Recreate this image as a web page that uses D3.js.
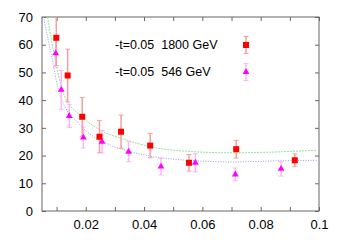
<!DOCTYPE html>
<html>
<head>
<meta charset="utf-8">
<script src="https://cdn.jsdelivr.net/npm/d3@7"></script>
<style>
  body { margin: 0; background: #fff; }
  svg { font-family: "Liberation Sans", Arial, sans-serif; }
</style>
</head>
<body>
<div class="chart"></div>
<script>
// 1800 GeV points (x, value, error)
var x1800 = [0.0099, 0.0138, 0.0188, 0.0247, 0.0321, 0.0421, 0.0554, 0.0716, 0.0917];
var y1800 = [62.5, 48.9, 34.0, 26.8, 28.6, 23.6, 17.4, 22.3, 18.3];
var e1800 = [10, 9.5, 7, 5.8, 6, 4.4, 3, 3.2, 2.3];

// 546 GeV points
var x546 = [0.0097, 0.0116, 0.01435, 0.0192, 0.0256, 0.0347, 0.0458, 0.0576, 0.0713, 0.087];
var y546 = [56.9, 43.7, 34.3, 26.5, 25.0, 21.4, 16.0, 17.4, 13.2, 15.2];
var e546 = [5, 7, 4.2, 3.8, 4, 3.6, 3, 3.3, 2.3, 2.6];

// fit curves
var fit1800x = [0.0069, 0.0092, 0.0124, 0.0187, 0.025, 0.0341, 0.0421, 0.0513, 0.0705, 0.0821, 0.0969, 0.0992];
var fit1800y = [70, 56.3, 42.4, 34.0, 29.2, 25.6, 23.2, 21.8, 21.0, 21.2, 21.8, 21.9];
var fit546x = [0.0055, 0.0082, 0.011, 0.0181, 0.0227, 0.0284, 0.0353, 0.0421, 0.0535, 0.0706, 0.0866, 0.0992];
var fit546y = [70, 56.3, 42.4, 31, 26.8, 23.8, 21.4, 19.8, 18.4, 17.7, 18.1, 18.3];

var xTicks = [0.02, 0.04, 0.06, 0.08, 0.1];
var yTicks = [0, 10, 20, 30, 40, 50, 60, 70];

var labels = ["-t=0.05  1800 GeV", "-t=0.05  546 GeV"];

var W = 343, H = 240;
var margin = {top: 17, right: 24, bottom: 29, left: 42};
var width = W - margin.left - margin.right;
var height = H - margin.top - margin.bottom;

var x = d3.scaleLinear().domain([0.005, 0.1]).range([0, width]);
var y = d3.scaleLinear().domain([0, 70]).range([height, 0]);

var svg = d3.select(".chart").append("svg")
  .attr("width", W).attr("height", H);

svg.append("defs").append("clipPath").attr("id", "clip")
  .append("rect").attr("width", width).attr("height", height);

var g = svg.append("g")
  .attr("transform", "translate(" + margin.left + "," + margin.top + ")");

var frameColor = "#666";

// axes, gnuplot style: ticks inward on all sides
var minorX = d3.range(1, 11).map(function (i) { return i / 100; });

var ax = g.append("g").attr("transform", "translate(0," + height + ")")
  .call(d3.axisBottom(x).tickValues(minorX).tickSize(-4).tickPadding(9)
    .tickFormat(function (d) { return xTicks.some(function (t) { return Math.abs(t - d) < 1e-9; }) ? d3.format("")(+d.toFixed(2)) : ""; }));
var axTop = g.append("g")
  .call(d3.axisTop(x).tickValues(minorX).tickSize(-4).tickFormat(""));
var ay = g.append("g")
  .call(d3.axisLeft(y).tickValues(yTicks).tickSize(-4).tickPadding(9));
var ayR = g.append("g").attr("transform", "translate(" + width + ",0)")
  .call(d3.axisRight(y).tickValues(yTicks).tickSize(-4).tickFormat(""));

[ax, axTop, ay, ayR].forEach(function (a) {
  a.select(".domain").remove();
  a.selectAll("line").attr("stroke", frameColor);
  a.selectAll("text").attr("fill", "#000").style("font-size", "13px");
});

g.append("rect").attr("width", width).attr("height", height)
  .attr("fill", "none").attr("stroke", frameColor).attr("stroke-width", 1);

var plot = g.append("g").attr("clip-path", "url(#clip)");

// fit curves
var line = d3.line().curve(d3.curveMonotoneX)
  .x(function (d) { return x(d[0]); })
  .y(function (d) { return y(d[1]); });

plot.append("path")
  .datum(d3.zip(fit1800x, fit1800y))
  .attr("d", line).attr("fill", "none")
  .attr("stroke", "#8fe88f").attr("stroke-width", 1)
  .attr("stroke-dasharray", "2,1");

plot.append("path")
  .datum(d3.zip(fit546x, fit546y))
  .attr("d", line).attr("fill", "none")
  .attr("stroke", "#9a9af7").attr("stroke-width", 1)
  .attr("stroke-dasharray", "1,1.5");

function errorBars(sel, xs, ys, es, color) {
  var d = d3.zip(xs, ys, es);
  var eb = sel.append("g").selectAll("g").data(d).enter().append("g");
  eb.append("line")
    .attr("x1", function (p) { return x(p[0]); })
    .attr("x2", function (p) { return x(p[0]); })
    .attr("y1", function (p) { return y(p[1] - p[2]); })
    .attr("y2", function (p) { return y(p[1] + p[2]); })
    .attr("stroke", color).attr("stroke-width", 1.5);
  [-1, 1].forEach(function (s) {
    eb.append("line")
      .attr("x1", function (p) { return x(p[0]) - 2.5; })
      .attr("x2", function (p) { return x(p[0]) + 2.5; })
      .attr("y1", function (p) { return y(p[1] + s * p[2]); })
      .attr("y2", function (p) { return y(p[1] + s * p[2]); })
      .attr("stroke", color).attr("stroke-width", 1);
  });
}

errorBars(plot, x546, y546, e546, "#ffb6f5");
errorBars(plot, x1800, y1800, e1800, "#f5a0a0");

var tri = d3.symbol().type(d3.symbolTriangle).size(20);

plot.append("g").selectAll("path").data(d3.zip(x546, y546)).enter()
  .append("path")
  .attr("d", tri)
  .attr("transform", function (p) { return "translate(" + x(p[0]) + "," + y(p[1]) + ")"; })
  .attr("fill", "#ff00ff");

plot.append("g").selectAll("rect").data(d3.zip(x1800, y1800)).enter()
  .append("rect")
  .attr("x", function (p) { return x(p[0]) - 3; })
  .attr("y", function (p) { return y(p[1]) - 3; })
  .attr("width", 6).attr("height", 6)
  .attr("fill", "#ff0000");

// legend
var leg = g.append("g");
var legY = [28, 55];
leg.selectAll("text").data(labels).enter().append("text")
  .attr("x", 73).attr("y", function (d, i) { return legY[i] + 4; })
  .style("font-size", "12.5px").style("white-space", "pre").attr("fill", "#000")
  .text(function (d) { return d; });

var lx = 204;
[["#f5a0a0", "#ff0000"], ["#ffb6f5", "#ff00ff"]].forEach(function (c, i) {
  var cy = legY[i];
  leg.append("line").attr("x1", lx).attr("x2", lx)
    .attr("y1", cy - 8.5).attr("y2", cy + 8.5)
    .attr("stroke", c[0]).attr("stroke-width", 1.5);
  [-8.5, 8.5].forEach(function (o) {
    leg.append("line").attr("x1", lx - 2.5).attr("x2", lx + 2.5)
      .attr("y1", cy + o).attr("y2", cy + o).attr("stroke", c[0]);
  });
  if (i === 0) {
    leg.append("rect").attr("x", lx - 3).attr("y", cy - 3)
      .attr("width", 6).attr("height", 6).attr("fill", c[1]);
  } else {
    leg.append("path").attr("d", tri)
      .attr("transform", "translate(" + lx + "," + cy + ")")
      .attr("fill", c[1]);
  }
});
</script>
</body>
</html>
